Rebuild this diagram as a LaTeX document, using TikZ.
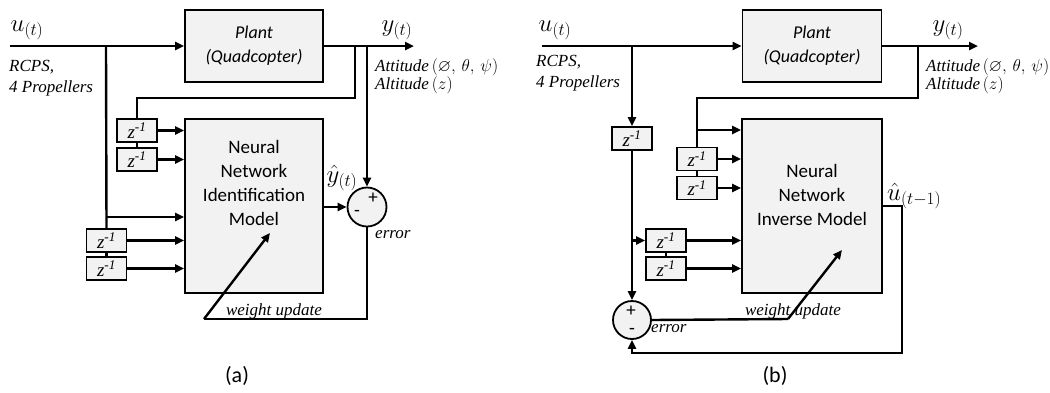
\documentclass[tikz,border=0pt]{standalone}
\usepackage{amsmath,amssymb}
\usepackage{fontspec}
\usepackage{tikz}
\usetikzlibrary{arrows.meta, positioning, calc}
\usepackage{xcolor}
\newfontfamily\calfont{Carlito}
\newfontfamily\tmsfont{Liberation Serif}
\definecolor{boxfill}{RGB}{242,242,242}
\tikzset{
  blk/.style={draw, line width=1.8pt, fill=boxfill, inner sep=0pt},
  dly/.style={blk, line width=1.6pt, minimum width=40pt, minimum height=23pt,
              font=\tmsfont\itshape\fontsize{19}{19}\selectfont},
  sumpt/.style={circle, draw, line width=1.8pt, fill=boxfill, minimum size=39pt, inner sep=0pt},
  wire/.style={line width=2.4pt},
  arr/.style={wire, -{Triangle[length=9pt,width=8pt]}},
  nntxt/.style={align=center, inner sep=0pt, font=\calfont\fontsize{19}{24}\selectfont},
  planttxt/.style={align=center, font=\calfont\itshape\fontsize{18}{24}\selectfont},
  mathlbl/.style={inner sep=0pt, font=\fontsize{24}{26}\selectfont},
  tmslbl/.style={inner sep=0pt, align=left, font=\tmsfont\itshape\fontsize{17}{21}\selectfont},
  attlbl/.style={inner sep=0pt, align=left, font=\tmsfont\itshape\fontsize{17}{17}\selectfont},
  sgn/.style={inner sep=0pt, font=\calfont\fontsize{19}{19}\selectfont},
  caplbl/.style={font=\calfont\fontsize{22}{22}\selectfont}
}
\newcommand{\attvals}{$(\varnothing,\,\theta,\,\psi)$}

\begin{document}
\begin{tikzpicture}[x=1pt, y=-1pt]
    \useasboundingbox (0,0) rectangle (1050,392);

    \node[blk, planttxt, minimum width=138pt, minimum height=72pt] (plantA) at (254,46) {Plant\\(Quadcopter)};
    \node[blk, minimum width=138pt, minimum height=174pt] (nnA) at (254,206) {};
    \node[nntxt] (nnAtxt) at (254,183) {Neural\\Network\\Identification\\Model};
    \node[dly] (zA1) at (137,130.5) {z\textsuperscript{-1}};
    \node[dly] (zA2) at (137,159.5) {z\textsuperscript{-1}};
    \node[dly] (zA3) at (106.5,240.5) {z\textsuperscript{-1}};
    \node[dly] (zA4) at (106.5,268.5) {z\textsuperscript{-1}};
    \node[sumpt] (sumA) at (367,207) {};
    \node[sgn] (plA) at (373,198) {+};
    \node[sgn] (mnA) at (357,213) {-};

    \coordinate (inA) at (10,46);
    \coordinate (brA) at (106,46);
    \coordinate (tapA) at (106,217);
    \coordinate (fbA) at (355,46);
    \coordinate (fbA2) at (137,98);
    \coordinate (msA) at (367,46);
    \coordinate (outA) at (414,46);
    \coordinate (wuA) at (204,319);
    \coordinate (wtA) at (270,233);

    \draw[arr] (inA) -- (plantA.west);
    \draw[wire] (brA) -- (zA3.north);
    \draw[arr] (tapA) -- (tapA -| nnA.west);
    \draw[wire] (zA3.south) -- (zA4.north);
    \draw[arr] (zA3.east) -- (zA3.east -| nnA.west);
    \draw[arr] (zA4.east) -- (zA4.east -| nnA.west);
    \draw[arr] (plantA.east) -- (outA);
    \draw[wire] (fbA) |- (fbA2) -- (zA1.north);
    \draw[wire] (zA1.south) -- (zA2.north);
    \draw[arr] (zA1.east) -- (zA1.east -| nnA.west);
    \draw[arr] (zA2.east) -- (zA2.east -| nnA.west);
    \draw[arr] (msA) -- (sumA.north);
    \draw[arr] (nnA.east |- sumA) -- (sumA.west);
    \draw[wire] (sumA.south) |- (wuA);
    \draw[arr] (wuA) -- (wtA);

    \node[mathlbl] (uA) at (27,30) {$u_{(t)}$};
    \node[tmslbl, anchor=north west] (rcpsA) at (9,60) {RCPS,\\4 Propellers};
    \node[mathlbl] (yA) at (397,30) {$y_{(t)}$};
    \node[attlbl, anchor=north west] (attA) at (375,58) {Attitude\,\attvals\\Altitude\,$(z)$};
    \node[mathlbl] (yhA) at (342,178) {$\hat{y}_{(t)}$};
    \node[tmslbl, anchor=west] (errA) at (375,235) {error};
    \node[tmslbl] (wlA) at (274,311) {weight update};
    \node[caplbl] (capA) at (237,376) {(a)};

    \node[blk, planttxt, minimum width=139pt, minimum height=72pt] (plantB) at (812,46) {Plant\\(Quadcopter)};
    \node[blk, minimum width=140pt, minimum height=174pt] (nnB) at (812,206) {};
    \node[nntxt] (nnBtxt) at (812,195) {Neural\\Network\\Inverse Model};
    \node[dly] (zB0) at (632,138.5) {z\textsuperscript{-1}};
    \node[dly] (zB1) at (697,159) {z\textsuperscript{-1}};
    \node[dly] (zB2) at (697,188) {z\textsuperscript{-1}};
    \node[dly] (zB3) at (666,240.5) {z\textsuperscript{-1}};
    \node[dly] (zB4) at (666,268.5) {z\textsuperscript{-1}};
    \node[sumpt, minimum size=38pt] (sumB) at (632,320) {};
    \node[sgn] (plB) at (631,311) {+};
    \node[sgn] (mnB) at (632,331) {-};

    \coordinate (inB) at (542,46);
    \coordinate (brB) at (632,46);
    \coordinate (tapB) at (632,240.5);
    \coordinate (fbB) at (918,46);
    \coordinate (fbB2) at (697,98);
    \coordinate (tapB2) at (697,130);
    \coordinate (outB) at (978,46);
    \coordinate (rtB) at (902,353);
    \coordinate (wuB) at (788,319);
    \coordinate (wtB) at (842,250);

    \draw[arr] (inB) -- (plantB.west);
    \draw[arr] (brB) -- (zB0.north);
    \draw[arr] (zB0.south) -- (sumB.north);
    \draw[arr] (tapB) -- (zB3.west);
    \draw[wire] (zB3.south) -- (zB4.north);
    \draw[arr] (zB3.east) -- (zB3.east -| nnB.west);
    \draw[arr] (zB4.east) -- (zB4.east -| nnB.west);
    \draw[arr] (plantB.east) -- (outB);
    \draw[wire] (fbB) |- (fbB2) -- (zB1.north);
    \draw[arr] (tapB2) -- (tapB2 -| nnB.west);
    \draw[wire] (zB1.south) -- (zB2.north);
    \draw[arr] (zB1.east) -- (zB1.east -| nnB.west);
    \draw[arr] (zB2.east) -- (zB2.east -| nnB.west);
    \draw[arr] (nnB.east) -| (rtB) -| (sumB.south);
    \draw[wire] (sumB.east) -- (wuB);
    \draw[arr] (wuB) -- (wtB);

    \node[mathlbl] (uB) at (555,30) {$u_{(t)}$};
    \node[tmslbl, anchor=north west] (rcpsB) at (536,55) {RCPS,\\4 Propellers};
    \node[mathlbl] (yB) at (948,30) {$y_{(t)}$};
    \node[attlbl, anchor=north west] (attB) at (926,58) {Attitude\,\attvals\\Altitude\,$(z)$};
    \node[mathlbl, anchor=west] (uhB) at (887,196) {$\hat{u}_{(t-1)}$};
    \node[tmslbl, anchor=west] (errB) at (651,329) {error};
    \node[tmslbl] (wlB) at (793,311) {weight update};
    \node[caplbl] (capB) at (775,376) {(b)};
\end{tikzpicture}
\end{document}
